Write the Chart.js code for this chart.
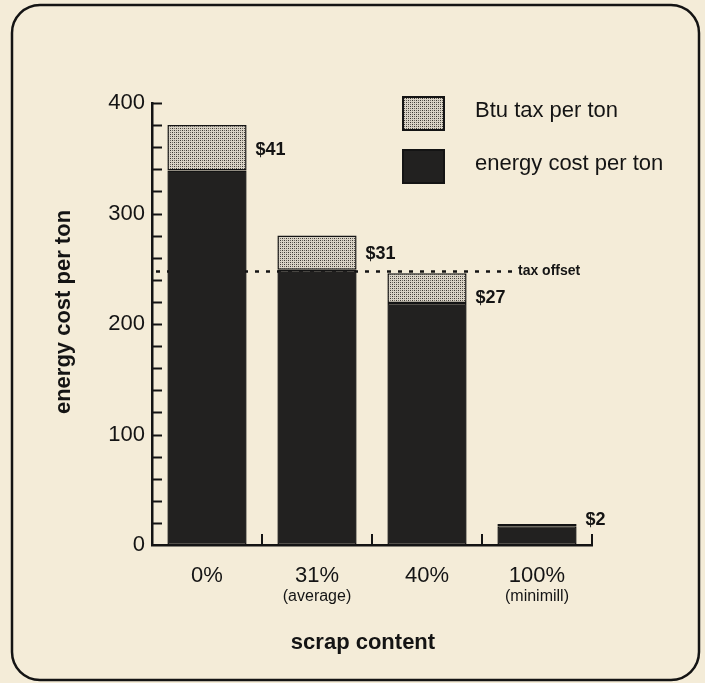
<!DOCTYPE html>
<html>
<head>
<meta charset="utf-8">
<script src="https://cdn.jsdelivr.net/npm/chart.js@4/dist/chart.umd.min.js"></script>
<style>
  html, body { margin: 0; padding: 0; background: #f4ecd8; }
  canvas { display: block; }
</style>
</head>
<body>
<canvas id="c" width="705" height="683"></canvas>
<script>
// ---------- Data ----------
const CATEGORIES = ['0%', '31%', '40%', '100%'];
const SUB_LABELS = ['', '(average)', '', '(minimill)'];
const ENERGY_COST = [339, 249, 219, 17];
const BTU_TAX = [41, 31, 27, 2];
const TAX_LABELS = ['$41', '$31', '$27', '$2'];
const TAX_OFFSET = 248;
const Y_TICKS = [0, 100, 200, 300, 400];

const FONT = '"Liberation Sans", Arial, Helvetica, sans-serif';
const BG = '#f4ecd8';
const INK = '#141414';

// stippled fill for the tax segment
function stipple() {
  const c = document.createElement('canvas');
  c.width = 4; c.height = 4;
  const g = c.getContext('2d');
  g.fillStyle = '#d9d3c6';
  g.fillRect(0, 0, 4, 4);
  g.fillStyle = '#3c3832';
  g.fillRect(0, 0, 1, 1);
  g.fillRect(2, 2, 1, 1);
  g.fillStyle = '#6f6a62';
  g.fillRect(2, 0, 1, 1);
  g.fillRect(0, 2, 1, 1);
  return g.createPattern(c, 'repeat');
}
const TAX_FILL = stipple();
const ENERGY_FILL = '#222120';

// label nudges (px) for the $ labels, relative to the top of each bar
const LABEL_DY = [25, 18, 25, -4];

// ---------- Extra drawing ----------
const decor = {
  id: 'decor',
  beforeDraw(chart) {
    const { ctx, width, height } = chart;
    ctx.save();
    ctx.fillStyle = BG;
    ctx.fillRect(0, 0, width, height);
    ctx.strokeStyle = INK;
    ctx.lineWidth = 2.5;
    ctx.beginPath();
    ctx.roundRect(12, 5, 687, 675, 28);
    ctx.stroke();
    ctx.restore();
  },
  beforeDatasetsDraw(chart) {
    const { ctx, scales: { y }, chartArea } = chart;
    const py = Math.round(y.getPixelForValue(TAX_OFFSET)) + 0.5;
    ctx.save();
    ctx.strokeStyle = INK;
    ctx.lineWidth = 2.5;
    ctx.setLineDash([4, 7]);
    ctx.beginPath();
    ctx.moveTo(chartArea.left + 4, py);
    ctx.lineTo(512, py);
    ctx.stroke();
    ctx.restore();
  },
  afterDraw(chart) {
    const { ctx, scales: { x, y }, chartArea } = chart;
    ctx.save();
    ctx.strokeStyle = INK;
    ctx.lineWidth = 2;

    // y minor/major ticks pointing inward
    for (let v = 20; v <= 400; v += 20) {
      const py = Math.round(y.getPixelForValue(v)) + 0.5;
      ctx.beginPath();
      ctx.moveTo(chartArea.left, py);
      ctx.lineTo(chartArea.left + 10, py);
      ctx.stroke();
    }
    // x ticks at category boundaries
    for (let i = 0; i < CATEGORIES.length; i++) {
      const px = i < CATEGORIES.length - 1
        ? (x.getPixelForValue(i) + x.getPixelForValue(i + 1)) / 2
        : chartArea.right;
      ctx.beginPath();
      ctx.moveTo(Math.round(px), chartArea.bottom);
      ctx.lineTo(Math.round(px), chartArea.bottom - 11);
      ctx.stroke();
    }

    ctx.fillStyle = INK;
    // sub labels under categories
    ctx.font = '16px ' + FONT;
    ctx.textAlign = 'center';
    ctx.textBaseline = 'middle';
    SUB_LABELS.forEach((s, i) => {
      if (s) ctx.fillText(s, x.getPixelForValue(i), 597);
    });

    // axis titles
    ctx.font = 'bold 22px ' + FONT;
    ctx.fillText('scrap content', 363, 643);
    ctx.save();
    ctx.translate(64, 312);
    ctx.rotate(-Math.PI / 2);
    ctx.fillText('energy cost per ton', 0, 0);
    ctx.restore();

    // $ labels next to the bars
    const meta = chart.getDatasetMeta(1);
    ctx.font = 'bold 18px ' + FONT;
    ctx.textAlign = 'left';
    meta.data.forEach((bar, i) => {
      const px = bar.x + bar.width / 2 + 9;
      ctx.fillText(TAX_LABELS[i], px, bar.y + LABEL_DY[i]);
    });

    // tax offset note
    ctx.font = 'bold 14px ' + FONT;
    ctx.fillText('tax offset', 518, Math.round(y.getPixelForValue(TAX_OFFSET)));

    // legend
    const items = [
      { fill: TAX_FILL, text: 'Btu tax per ton', top: 97 },
      { fill: ENERGY_FILL, text: 'energy cost per ton', top: 150 }
    ];
    ctx.font = '22px ' + FONT;
    items.forEach(it => {
      ctx.fillStyle = it.fill;
      ctx.fillRect(403, it.top, 41, 33);
      ctx.strokeStyle = INK;
      ctx.lineWidth = 2;
      ctx.strokeRect(403, it.top, 41, 33);
      ctx.fillStyle = INK;
      ctx.fillText(it.text, 475, it.top + 14);
    });
    ctx.restore();
  }
};

// ---------- Chart ----------
new Chart(document.getElementById('c'), {
  type: 'bar',
  data: {
    labels: CATEGORIES,
    datasets: [
      {
        label: 'energy cost per ton',
        data: ENERGY_COST,
        backgroundColor: ENERGY_FILL,
        borderColor: INK,
        borderWidth: 1.5,
        borderSkipped: false,
        barPercentage: 0.72,
        categoryPercentage: 1
      },
      {
        label: 'Btu tax per ton',
        data: BTU_TAX,
        backgroundColor: TAX_FILL,
        borderColor: INK,
        borderWidth: 1.5,
        borderSkipped: false,
        barPercentage: 0.72,
        categoryPercentage: 1
      }
    ]
  },
  options: {
    responsive: false,
    animation: false,
    devicePixelRatio: 1,
    layout: { padding: { top: 103, right: 113, left: 0, bottom: 0 } },
    plugins: {
      legend: { display: false },
      tooltip: { enabled: false }
    },
    scales: {
      x: {
        stacked: true,
        grid: { display: false, drawTicks: false },
        border: { display: true, color: INK, width: 2.5 },
        ticks: { color: INK, font: { family: FONT, size: 22 }, padding: 18 },
        afterFit: (s) => { s.height = 138; }
      },
      y: {
        stacked: true,
        min: 0,
        max: 400,
        afterBuildTicks: (s) => { s.ticks = Y_TICKS.map(v => ({ value: v })); },
        grid: { display: false, drawTicks: false },
        border: { display: true, color: INK, width: 2.5 },
        ticks: { color: INK, font: { family: FONT, size: 22 }, padding: 7 },
        afterFit: (s) => { s.width = 152; }
      }
    }
  },
  plugins: [decor]
});
</script>
</body>
</html>
